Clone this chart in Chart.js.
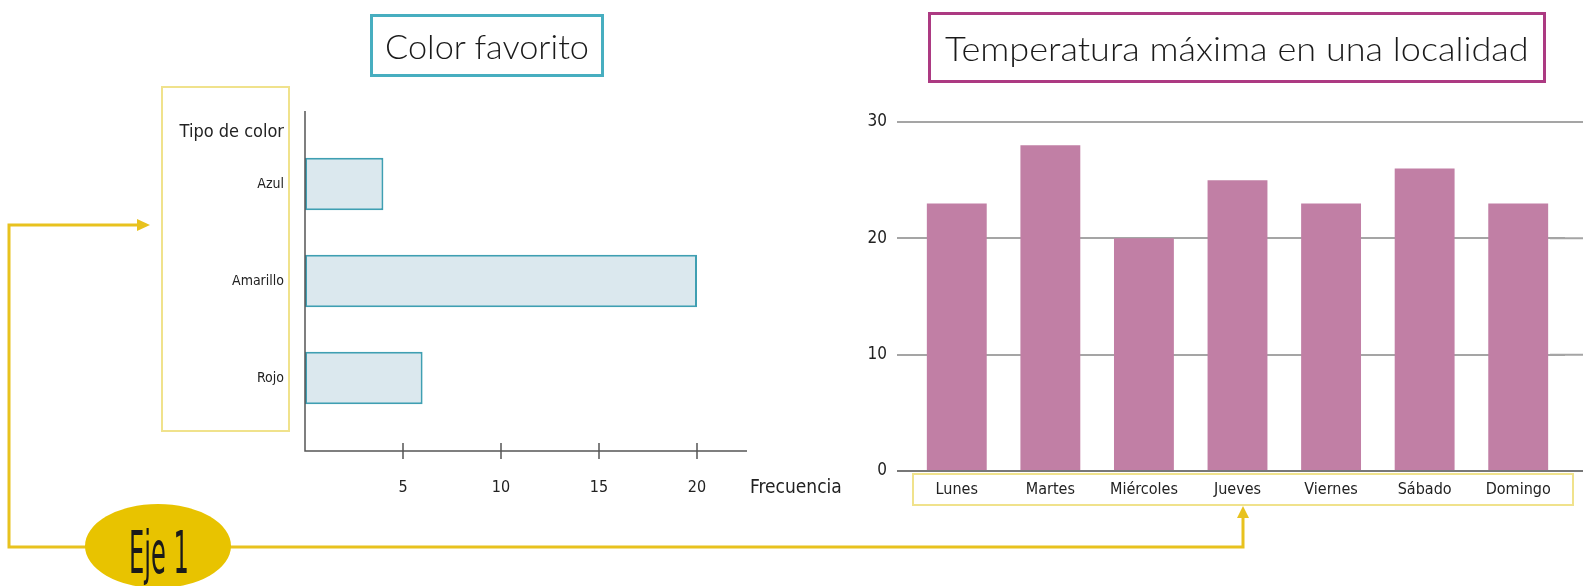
<!DOCTYPE html>
<html lang="es">
<head>
    <meta charset="UTF-8">
    <title>Eje 1 - Gráficos</title>
    <script src="https://cdn.jsdelivr.net/npm/chart.js"></script>
    <style>
        html, body { margin: 0; padding: 0; background: #fff; }
        .page { position: relative; width: 1586px; height: 586px; overflow: hidden; }
        canvas { position: absolute; top: 0; }
        #colorChart { left: 0; }
        #tempChart { left: 860px; }
        .title-box {
            position: absolute;
            box-sizing: border-box;
            border: 3px solid;
            display: flex;
            align-items: center;
            justify-content: center;
            font-family: Lato, "Open Sans", sans-serif;
            font-weight: 300;
            font-size: 34px;
            color: #1a1a1a;
            white-space: nowrap;
        }
        .title-box span { display: inline-block; transform-origin: center; }
        #tituloColor { left: 370px; top: 14px; width: 234px; height: 63px; border-color: #47aec0; }
        #tituloTemp { left: 928px; top: 12px; width: 618px; height: 71px; border-color: #ac3a82; }
        svg { position: absolute; left: 0; top: 0; pointer-events: none; }
    </style>
</head>
<body>
<div class="page">
    <canvas id="colorChart" width="860" height="586"></canvas>
    <canvas id="tempChart" width="726" height="586"></canvas>

    <svg width="1586" height="586">
        <!-- recuadros amarillos -->
        <rect x="162" y="87" width="127" height="344" fill="none" stroke="#f0e28c" stroke-width="2"/>
        <rect x="913" y="474" width="660" height="31" fill="none" stroke="#f0e28c" stroke-width="2"/>
        <!-- flechas -->
        <polyline points="138,225 9,225 9,547 1243,547 1243,516" fill="none" stroke="#e8c21e" stroke-width="3"/>
        <polygon points="150,225 137,219 137,231" fill="#e8c21e"/>
        <polygon points="1243,506 1237,518 1249,518" fill="#e8c21e"/>
        <ellipse cx="158" cy="546" rx="73" ry="42" fill="#e8c300"/>
        <text x="129" y="573" textLength="60" lengthAdjust="spacingAndGlyphs"
              font-family="'Liberation Sans Narrow', 'DejaVu Sans Condensed', sans-serif"
              font-size="58" fill="#1a1a1a">Eje 1</text>
    </svg>

    <div class="title-box" id="tituloColor"><span data-w="204">Color favorito</span></div>
    <div class="title-box" id="tituloTemp"><span data-w="584">Temperatura máxima en una localidad</span></div>
</div>

<script>
    // Datos: color favorito
    const colores = ['Azul', 'Amarillo', 'Rojo'];
    const frecuencias = [4, 20, 6];
    const ticksFrecuencia = [5, 10, 15, 20];

    // Datos: temperatura máxima
    const dias = ['Lunes', 'Martes', 'Miércoles', 'Jueves', 'Viernes', 'Sábado', 'Domingo'];
    const temperaturas = [23, 28, 20, 25, 23, 26, 23];

    const fuenteEstrecha = "'Liberation Sans Narrow', 'DejaVu Sans Condensed', sans-serif";

    // ajusta el ancho de los titulos
    document.querySelectorAll('.title-box span').forEach(s => {
        const objetivo = parseFloat(s.dataset.w);
        s.style.transform = 'scaleX(' + (objetivo / s.offsetWidth) + ')';
    });

    // ejes del grafico horizontal (se extienden fuera del area)
    const ejesColor = {
        id: 'ejesColor',
        afterDraw(chart) {
            const { ctx, chartArea, scales } = chart;
            const yEje = chartArea.bottom + 24.5;
            ctx.save();
            ctx.strokeStyle = '#555';
            ctx.lineWidth = 1.5;
            ctx.beginPath();
            ctx.moveTo(chartArea.left, chartArea.top - 24.5);
            ctx.lineTo(chartArea.left, yEje);
            ctx.lineTo(chartArea.right + 1, yEje);
            ticksFrecuencia.forEach(v => {
                const x = scales.x.getPixelForValue(v);
                ctx.moveTo(x, yEje - 8);
                ctx.lineTo(x, yEje + 8);
            });
            ctx.stroke();

            ctx.fillStyle = '#222';
            ctx.textBaseline = 'middle';
            ctx.font = '18px ' + fuenteEstrecha;
            ctx.textAlign = 'right';
            ctx.fillText('Tipo de color', chartArea.left - 21, chartArea.top - 3.5);
            ctx.font = '19px ' + fuenteEstrecha;
            ctx.textAlign = 'left';
            ctx.fillText('Frecuencia', chartArea.right + 4, yEje + 37);
            ctx.restore();
        }
    };

    new Chart(document.getElementById('colorChart'), {
        type: 'bar',
        data: {
            labels: colores,
            datasets: [{
                data: frecuencias,
                backgroundColor: '#dbe8ee',
                borderColor: '#3f9fb2',
                borderWidth: 2,
                borderSkipped: false,
                categoryPercentage: 1,
                barPercentage: 0.54
            }]
        },
        options: {
            indexAxis: 'y',
            responsive: false,
            animation: false,
            events: [],
            layout: { padding: { top: 135.5, right: 114, bottom: 0, left: 0 } },
            plugins: { legend: { display: false }, tooltip: { enabled: false } },
            scales: {
                x: {
                    type: 'linear',
                    min: 0,
                    max: 22.5,
                    grid: { display: false, drawTicks: false },
                    border: { display: false },
                    afterBuildTicks: s => { s.ticks = ticksFrecuencia.map(v => ({ value: v })); },
                    afterFit: s => { s.height = 159.5; },
                    ticks: { padding: 52, color: '#222', font: { family: fuenteEstrecha, size: 16 } }
                },
                y: {
                    grid: { display: false, drawTicks: false },
                    border: { display: false },
                    afterFit: s => { s.width = 305; },
                    ticks: { padding: 21, color: '#222', font: { family: fuenteEstrecha, size: 14 } }
                }
            }
        },
        plugins: [ejesColor]
    });

    // prolonga las lineas de la cuadricula hacia la derecha
    const cuadriculaExtendida = {
        id: 'cuadriculaExtendida',
        afterDraw(chart) {
            const { ctx, chartArea, scales } = chart;
            ctx.save();
            ctx.lineWidth = 2;
            scales.y.ticks.forEach(t => {
                const y = scales.y.getPixelForValue(t.value);
                ctx.strokeStyle = t.value === 0 ? '#777' : '#a5a5a5';
                ctx.beginPath();
                ctx.moveTo(chartArea.right - 15, y);
                ctx.lineTo(chartArea.right + 18, y);
                ctx.stroke();
            });
            ctx.restore();
        }
    };

    new Chart(document.getElementById('tempChart'), {
        type: 'bar',
        data: {
            labels: dias,
            datasets: [{
                data: temperaturas,
                backgroundColor: '#c17fa5',
                categoryPercentage: 1,
                barPercentage: 0.64
            }]
        },
        options: {
            responsive: false,
            animation: false,
            events: [],
            layout: { padding: { top: 122, right: 21, bottom: 0, left: 0 } },
            plugins: { legend: { display: false }, tooltip: { enabled: false } },
            scales: {
                x: {
                    grid: { display: false, drawTicks: false },
                    border: { display: false },
                    afterFit: s => { s.height = 115; },
                    ticks: { padding: 9, color: '#222', font: { family: fuenteEstrecha, size: 16 } }
                },
                y: {
                    min: 0,
                    max: 30,
                    border: { display: false },
                    grid: {
                        tickLength: 13,
                        lineWidth: 2,
                        color: c => c.tick && c.tick.value === 0 ? '#777' : '#a5a5a5'
                    },
                    afterFit: s => { s.width = 50; },
                    ticks: { stepSize: 10, padding: 10, color: '#222', font: { family: fuenteEstrecha, size: 17 } }
                }
            }
        },
        plugins: [cuadriculaExtendida]
    });
</script>
</body>
</html>
